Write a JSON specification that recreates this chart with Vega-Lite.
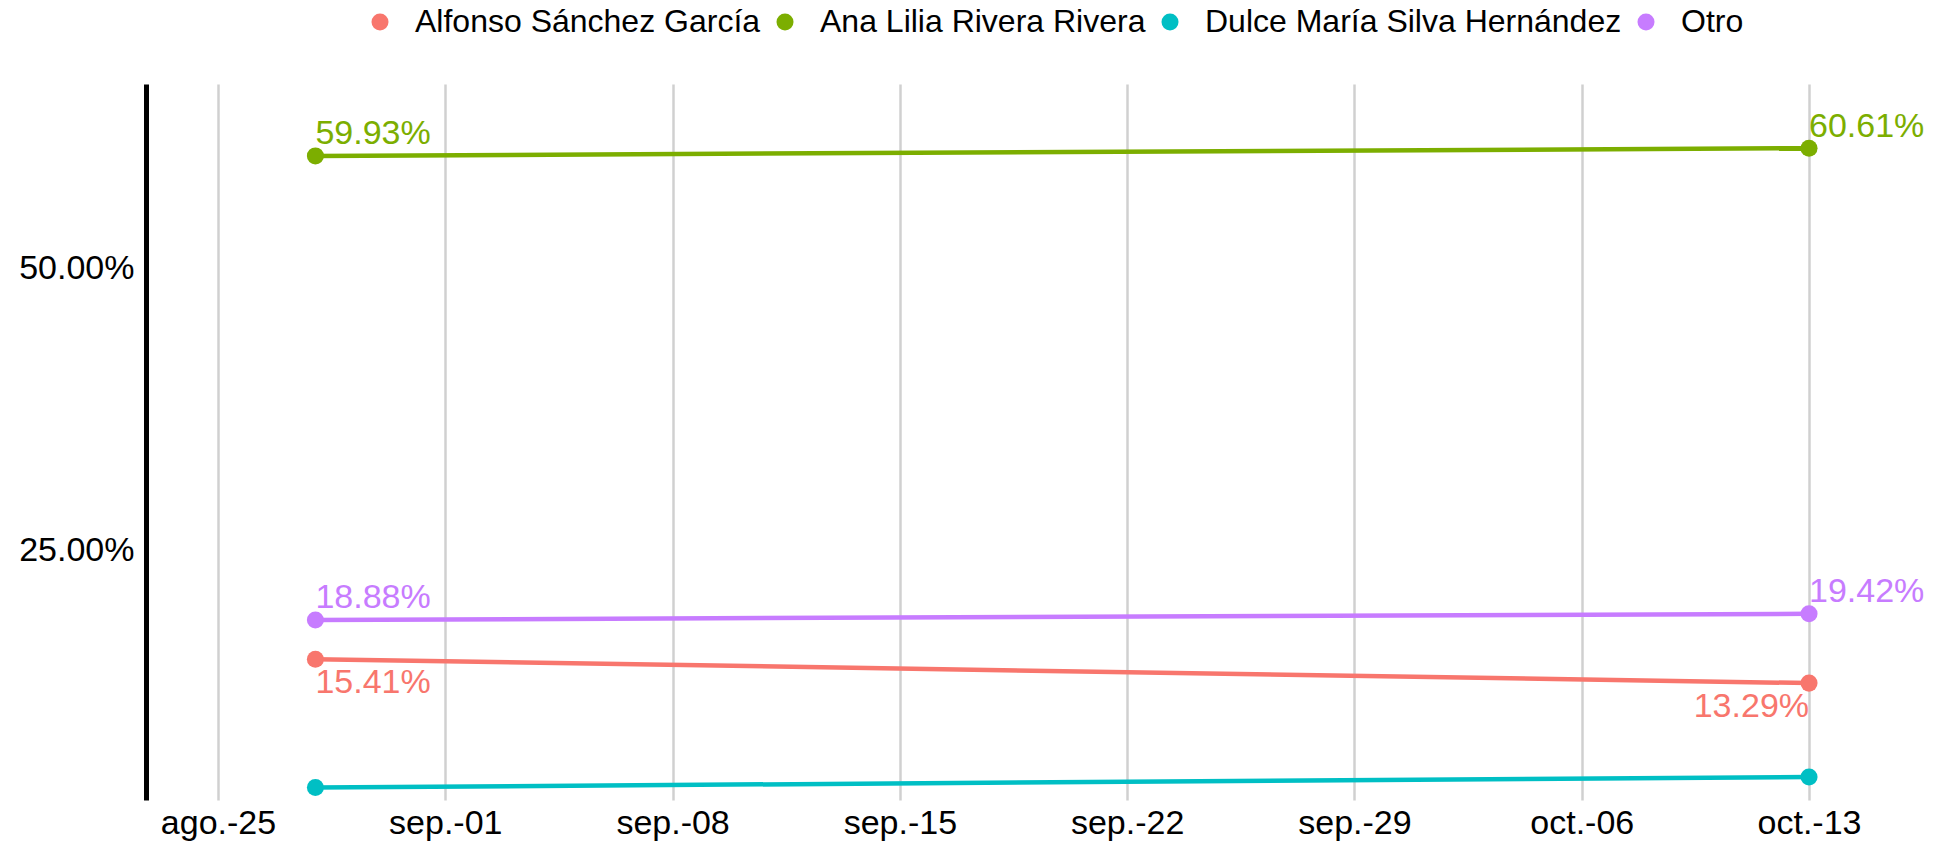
{
  "$schema": "https://vega.github.io/schema/vega-lite/v6.json",
  "autosize": {"type": "none"},
  "padding": {"left": 146, "top": 84, "right": 12, "bottom": 45},
  "width": 1779,
  "height": 716,
  "background": "white",
  "config": {
    "view": {"stroke": null},
    "font": "Liberation Sans",
    "text": {"font": "Liberation Sans"}
  },
  "data": {
    "values": [
      {"series": "Alfonso Sánchez García", "date": "2024-08-28", "value": 0.1541},
      {"series": "Alfonso Sánchez García", "date": "2024-10-13", "value": 0.1329},
      {"series": "Ana Lilia Rivera Rivera", "date": "2024-08-28", "value": 0.5993},
      {"series": "Ana Lilia Rivera Rivera", "date": "2024-10-13", "value": 0.6061},
      {"series": "Dulce María Silva Hernández", "date": "2024-08-28", "value": 0.0405},
      {"series": "Dulce María Silva Hernández", "date": "2024-10-13", "value": 0.0499},
      {"series": "Otro", "date": "2024-08-28", "value": 0.1888},
      {"series": "Otro", "date": "2024-10-13", "value": 0.1942}
    ]
  },
  "encoding": {
    "x": {
      "field": "date",
      "type": "temporal",
      "scale": {
        "type": "utc",
        "domain": [
          {"year": 2024, "month": 8, "date": 22, "hours": 18, "minutes": 47, "utc": true},
          {"year": 2024, "month": 10, "date": 16, "hours": 13, "minutes": 43, "utc": true}
        ]
      },
      "axis": {
        "title": null,
        "domain": false,
        "ticks": false,
        "tickSize": 0,
        "grid": true,
        "gridColor": "#D0D0D0",
        "gridWidth": 2.5,
        "labelFont": "Liberation Sans",
        "labelFontSize": 34,
        "labelColor": "#000000",
        "labelPadding": 6,
        "labelFlush": false,
        "values": [
          {"year": 2024, "month": 8, "date": 25, "utc": true},
          {"year": 2024, "month": 9, "date": 1, "utc": true},
          {"year": 2024, "month": 9, "date": 8, "utc": true},
          {"year": 2024, "month": 9, "date": 15, "utc": true},
          {"year": 2024, "month": 9, "date": 22, "utc": true},
          {"year": 2024, "month": 9, "date": 29, "utc": true},
          {"year": 2024, "month": 10, "date": 6, "utc": true},
          {"year": 2024, "month": 10, "date": 13, "utc": true}
        ],
        "labelExpr": "['ene.','feb.','mar.','abr.','may.','jun.','jul.','ago.','sep.','oct.','nov.','dic.'][utcmonth(datum.value)] + '-' + utcFormat(datum.value, '%d')"
      }
    },
    "y": {
      "field": "value",
      "type": "quantitative",
      "scale": {"domain": [0.0295, 0.6629], "nice": false, "zero": false},
      "axis": {
        "title": null,
        "values": [0.25, 0.5],
        "format": ".2%",
        "grid": false,
        "ticks": false,
        "tickSize": 0,
        "domain": true,
        "domainColor": "#000000",
        "domainWidth": 5,
        "labelFont": "Liberation Sans",
        "labelFontSize": 34,
        "labelColor": "#000000",
        "labelPadding": 12
      }
    },
    "color": {
      "field": "series",
      "type": "nominal",
      "scale": {
        "domain": ["Alfonso Sánchez García", "Ana Lilia Rivera Rivera", "Dulce María Silva Hernández", "Otro"],
        "range": ["#F8766D", "#7CAE00", "#00BFC4", "#C77CFF"]
      },
      "legend": {
        "title": null,
        "orient": "none",
        "direction": "horizontal",
        "legendX": 218,
        "legendY": -78,
        "padding": 0,
        "symbolType": "circle",
        "symbolSize": 300,
        "symbolStrokeWidth": 0,
        "labelFont": "Liberation Sans",
        "labelFontSize": 32,
        "labelColor": "#000000",
        "labelOffset": 19,
        "columnPadding": 8,
        "labelLimit": 0,
        "encode": {"symbols": {"update": {"size": {"value": 290}, "strokeWidth": {"value": 0}}}}
      }
    }
  },
  "layer": [
    {
      "mark": {"type": "line", "strokeWidth": 4.5}
    },
    {
      "mark": {"type": "point", "filled": true, "size": 290, "opacity": 1}
    },
    {
      "transform": [{"filter": "datum.series === 'Ana Lilia Rivera Rivera' || datum.series === 'Otro'"}],
      "mark": {"type": "text", "align": "left", "baseline": "alphabetic", "dy": -11.5, "fontSize": 34},
      "encoding": {"text": {"field": "value", "type": "quantitative", "format": ".2%"}}
    },
    {
      "transform": [{"filter": "datum.series === 'Alfonso Sánchez García' && utcdate(datum.date) === 28"}],
      "mark": {"type": "text", "align": "left", "baseline": "alphabetic", "dy": 34, "fontSize": 34},
      "encoding": {"text": {"field": "value", "type": "quantitative", "format": ".2%"}}
    },
    {
      "transform": [{"filter": "datum.series === 'Alfonso Sánchez García' && utcdate(datum.date) === 13"}],
      "mark": {"type": "text", "align": "right", "baseline": "alphabetic", "dy": 34, "fontSize": 34},
      "encoding": {"text": {"field": "value", "type": "quantitative", "format": ".2%"}}
    }
  ]
}
